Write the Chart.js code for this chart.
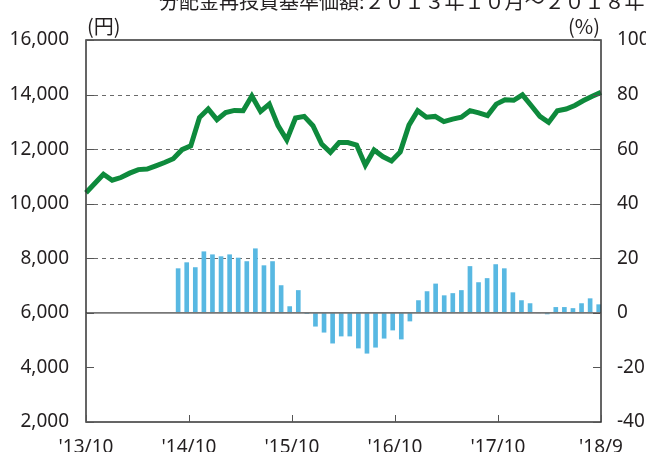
<!DOCTYPE html>
<html>
<head>
<meta charset="utf-8">
<script src="https://cdn.jsdelivr.net/npm/chart.js@4"></script>
<style>
  html, body { margin: 0; padding: 0; background: #fff; }
  #wrap { width: 646px; height: 452px; position: relative; }
</style>
</head>
<body>
<div id="wrap"><canvas id="fundChart"></canvas></div>
<script>
// months from 2013/10 to 2018/9
var months = [];
for (var i = 0; i < 60; i++) {
  var m = (9 + i) % 12 + 1;
  var yr = 2013 + Math.floor((9 + i) / 12);
  months.push(yr + '/' + m);
}

// 分配金再投資基準価額 (円)
var navValues = [
  10400, 10740, 11080, 10860, 10960, 11120, 11250, 11270, 11390, 11510,
  11650, 11980, 12120, 13160, 13470, 13080, 13340, 13420, 13410, 13950,
  13380, 13650, 12860, 12340, 13140, 13200, 12860, 12190, 11880, 12240,
  12240, 12150, 11410, 11970, 11730, 11570, 11900, 12880, 13410, 13170,
  13200, 13010, 13100, 13170, 13410, 13330, 13230, 13650, 13810, 13790,
  13990, 13600, 13200, 12980, 13410, 13470, 13600, 13780, 13940, 14080
];

// 騰落率 (%)
var returnValues = [
  null, null, null, null, null, null, null, null, null, null,
  16.2, 18.4, 16.6, 22.4, 21.3, 20.6, 21.3, 20.1, 18.8, 23.5,
  17.3, 18.8, 10.0, 2.3, 8.2, -0.3, -4.9, -7.1, -11.1, -8.5,
  -8.5, -12.9, -14.8, -12.6, -9.3, -6.3, -9.6, -3.0, 4.5, 7.8,
  10.6, 6.3, 7.1, 8.2, 17.0, 11.1, 12.6, 17.7, 16.2, 7.4,
  4.5, 3.4, 0.2, -0.4, 2.0, 2.0, 1.6, 3.4, 5.2, 3.0
];

var xTickPos = [0, 12, 24, 36, 48, 60];
var xTickLabels = ["'13/10", "'14/10", "'15/10", "'16/10", "'17/10", "'18/9"];
var dashedAt = [8000, 10000, 12000, 14000];

var titleText = '分配金再投資基準価額:２０１３年１０月～２０１８年９月';
var textColor = '#231f20';
var tickFont = { family: 'Noto Sans', size: 19 };

var barData = [];
for (var j = 0; j < returnValues.length; j++) {
  if (returnValues[j] !== null) barData.push({ x: j + 0.5, y: returnValues[j] });
}

var framePlugin = {
  id: 'frame',
  beforeDatasetsDraw: function (chart) {
    var ctx = chart.ctx, a = chart.chartArea, y = chart.scales.y;
    ctx.save();
    ctx.strokeStyle = '#6a6a6a';
    ctx.lineWidth = 1;
    ctx.setLineDash([4, 4]);
    dashedAt.forEach(function (v) {
      var py = Math.round(y.getPixelForValue(v)) + 0.5;
      ctx.beginPath();
      ctx.moveTo(a.left, py);
      ctx.lineTo(a.right, py);
      ctx.stroke();
    });
    ctx.restore();
  },
  afterDatasetsDraw: function (chart) {
    var ctx = chart.ctx, a = chart.chartArea;
    var y = chart.scales.y, x = chart.scales.x;
    ctx.save();
    // zero line
    var zy = y.getPixelForValue(6000);
    ctx.strokeStyle = '#777';
    ctx.lineWidth = 1.6;
    ctx.beginPath();
    ctx.moveTo(a.left, zy);
    ctx.lineTo(a.right, zy);
    ctx.stroke();
    // frame
    ctx.strokeStyle = '#333';
    ctx.lineWidth = 1.5;
    ctx.strokeRect(a.left, a.top, a.right - a.left, a.bottom - a.top);
    // inward ticks
    ctx.lineWidth = 1;
    ctx.strokeStyle = '#555';
    y.ticks.forEach(function (t) {
      var py = Math.round(y.getPixelForValue(t.value)) + 0.5;
      ctx.beginPath();
      ctx.moveTo(a.left, py); ctx.lineTo(a.left + 8, py);
      ctx.moveTo(a.right - 8, py); ctx.lineTo(a.right, py);
      ctx.stroke();
    });
    x.ticks.forEach(function (t) {
      var px = Math.round(x.getPixelForValue(t.value)) + 0.5;
      ctx.beginPath();
      ctx.moveTo(px, a.bottom); ctx.lineTo(px, a.bottom - 7);
      ctx.stroke();
    });
    ctx.restore();
  },
  afterDraw: function (chart) {
    var ctx = chart.ctx, a = chart.chartArea;
    ctx.save();
    ctx.fillStyle = textColor;
    ctx.font = '20px "Noto Sans CJK JP"';
    ctx.textBaseline = 'alphabetic';
    ctx.textAlign = 'left';
    ctx.fillText(titleText, 159, 9);
    ctx.textBaseline = 'middle';
    ctx.fillText('(円)', a.left + 1, 26);
    ctx.textAlign = 'right';
    ctx.fillText('(%)', a.right - 1, 26);
    ctx.restore();
  }
};

new Chart(document.getElementById('fundChart'), {
  type: 'bar',
  data: {
    labels: months,
    datasets: [
      {
        type: 'line',
        label: '分配金再投資基準価額',
        data: navValues,
        xAxisID: 'xl',
        yAxisID: 'y',
        borderColor: '#0e8a3c',
        borderWidth: 5,
        pointRadius: 0,
        tension: 0,
        order: 0
      },
      {
        type: 'bar',
        label: '騰落率',
        data: barData,
        xAxisID: 'x',
        yAxisID: 'y2',
        backgroundColor: '#58b8e2',
        barThickness: 4,
        order: 1
      }
    ]
  },
  options: {
    responsive: true,
    maintainAspectRatio: false,
    animation: false,
    layout: { padding: { top: 40, left: 0, right: 0, bottom: 0 } },
    plugins: {
      legend: { display: false },
      tooltip: { enabled: false },
      title: { display: false }
    },
    scales: {
      x: {
        type: 'linear',
        position: 'bottom',
        min: 0,
        max: 60,
        offset: false,
        grid: { display: false, offset: false },
        border: { display: false },
        afterBuildTicks: function (scale) {
          scale.ticks = xTickPos.map(function (v) { return { value: v }; });
        },
        afterFit: function (scale) { scale.height = 30; },
        ticks: {
          color: textColor,
          font: tickFont,
          padding: 6,
          maxRotation: 0,
          autoSkip: false,
          callback: function (value) {
            return xTickLabels[xTickPos.indexOf(value)];
          }
        }
      },
      xl: {
        type: 'category',
        labels: months,
        offset: false,
        display: false
      },
      y: {
        position: 'left',
        min: 2000,
        max: 16000,
        grid: { display: false },
        border: { display: false },
        afterFit: function (scale) { scale.width = 86; },
        ticks: {
          stepSize: 2000,
          color: textColor,
          font: tickFont,
          padding: 9,
          callback: function (v) { return v.toLocaleString('en-US'); }
        }
      },
      y2: {
        position: 'right',
        min: -40,
        max: 100,
        grid: { display: false },
        border: { display: false },
        afterFit: function (scale) { scale.width = 45; },
        ticks: {
          stepSize: 20,
          color: textColor,
          font: tickFont,
          padding: 8
        }
      }
    }
  },
  plugins: [framePlugin]
});
</script>
</body>
</html>
